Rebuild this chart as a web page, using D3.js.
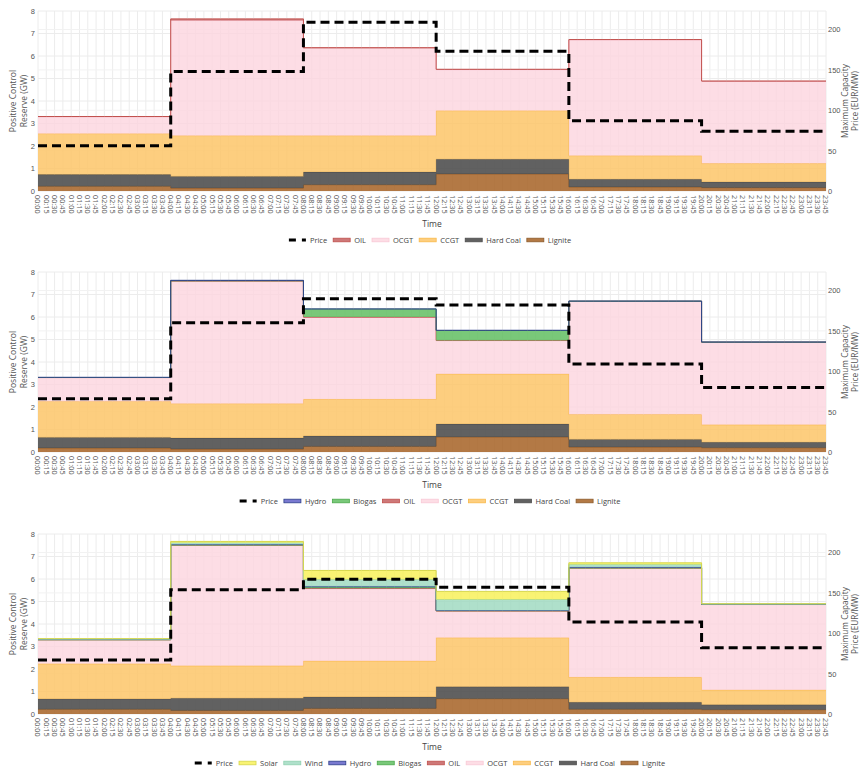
<!DOCTYPE html>
<html>
<head>
<meta charset="utf-8">
<script src="https://cdn.jsdelivr.net/npm/d3@7"></script>
<style>
  body { margin: 0; background: #fff; }
  svg { display: block; font-family: "Open Sans", "DejaVu Sans", sans-serif; }
</style>
</head>
<body>
<svg id="chart" width="861" height="772"></svg>
<script>
// Four-hour product blocks (00-04, 04-08, 08-12, 12-16, 16-20, 20-24), GW per technology
const blockStarts = ["00:00", "04:00", "08:00", "12:00", "16:00", "20:00"];

// Scenario 1: conventional only
const s1Lignite  = [0.21, 0.13, 0.28, 0.76, 0.18, 0.15];
const s1HardCoal = [0.52, 0.52, 0.56, 0.65, 0.34, 0.25];
const s1CCGT     = [1.82, 1.81, 1.62, 2.16, 1.05, 0.82];
const s1OCGT     = [0.74, 5.12, 3.89, 1.82, 5.14, 3.65];
const s1OIL      = [0.02, 0.07, 0.02, 0.02, 0.02, 0.02];
const s1Price    = [56, 148, 209, 173, 87, 74];

// Scenario 2: with biogas and hydro
const s2Lignite  = [0.18, 0.13, 0.25, 0.67, 0.22, 0.19];
const s2HardCoal = [0.47, 0.49, 0.46, 0.57, 0.34, 0.24];
const s2CCGT     = [1.60, 1.53, 1.63, 2.23, 1.11, 0.78];
const s2OCGT     = [1.05, 5.43, 3.64, 1.47, 5.02, 3.66];
const s2OIL      = [0.01, 0.03, 0.02, 0.02, 0.01, 0.01];
const s2Biogas   = [0.00, 0.00, 0.35, 0.44, 0.00, 0.00];
const s2Hydro    = [0.01, 0.02, 0.01, 0.01, 0.01, 0.01];
const s2Price    = [66, 160, 190, 182, 109, 80];

// Scenario 3: with wind and solar
const s3Lignite  = [0.21, 0.16, 0.25, 0.68, 0.21, 0.19];
const s3HardCoal = [0.46, 0.54, 0.51, 0.53, 0.31, 0.22];
const s3CCGT     = [1.56, 1.44, 1.60, 2.18, 1.11, 0.66];
const s3OCGT     = [1.06, 5.36, 3.20, 1.18, 4.85, 3.79];
const s3OIL      = [0.01, 0.01, 0.03, 0.01, 0.01, 0.01];
const s3Biogas   = [0.00, 0.00, 0.04, 0.01, 0.00, 0.00];
const s3Hydro    = [0.01, 0.02, 0.04, 0.01, 0.03, 0.01];
const s3Wind     = [0.02, 0.08, 0.31, 0.49, 0.13, 0.01];
const s3Solar    = [0.02, 0.06, 0.40, 0.36, 0.07, 0.01];
const s3Price    = [67, 154, 167, 157, 114, 82];

const gwTicks = [0, 1, 2, 3, 4, 5, 6, 7, 8];
const priceTicks = [0, 50, 100, 150, 200];
const gwMax = 8;
const priceMax = 223;

// Technology styling: fill, outline
const tech = {
  "Lignite":   { fill: "rgba(166,97,36,0.85)",  line: "#8c5a2b" },
  "Hard Coal": { fill: "rgba(80,80,80,0.9)",    line: "#4d4d4d" },
  "CCGT":      { fill: "rgba(253,198,105,0.85)",line: "#f9b949" },
  "OCGT":      { fill: "rgba(253,212,222,0.8)", line: "#f9c9d5" },
  "OIL":       { fill: "rgba(198,96,96,0.85)",  line: "#c0504d" },
  "Biogas":    { fill: "rgba(98,190,98,0.85)",  line: "#4aa84a" },
  "Hydro":     { fill: "rgba(98,98,200,0.85)",  line: "#2d3f8a" },
  "Wind":      { fill: "rgba(155,216,190,0.8)", line: "#8fd0b0" },
  "Solar":     { fill: "rgba(247,240,80,0.8)",  line: "#d6d64a" }
};

const panels = [
  { top: 11,  series: { "Lignite": s1Lignite, "Hard Coal": s1HardCoal, "CCGT": s1CCGT, "OCGT": s1OCGT, "OIL": s1OIL }, price: s1Price },
  { top: 272, series: { "Lignite": s2Lignite, "Hard Coal": s2HardCoal, "CCGT": s2CCGT, "OCGT": s2OCGT, "OIL": s2OIL, "Biogas": s2Biogas, "Hydro": s2Hydro }, price: s2Price },
  { top: 534, series: { "Lignite": s3Lignite, "Hard Coal": s3HardCoal, "CCGT": s3CCGT, "OCGT": s3OCGT, "OIL": s3OIL, "Biogas": s3Biogas, "Hydro": s3Hydro, "Wind": s3Wind, "Solar": s3Solar }, price: s3Price }
];

// Quarter-hour time axis labels
const timeLabels = [];
for (let h = 0; h < 24; h++) for (let m = 0; m < 60; m += 15)
  timeLabels.push(String(h).padStart(2, "0") + ":" + String(m).padStart(2, "0"));
const slotsPerBlock = timeLabels.length / blockStarts.length;
const expand = arr => arr.flatMap(v => new Array(slotsPerBlock).fill(v));

const svg = d3.select("#chart");
const left = 38, right = 826, plotH = 180;
const x = d3.scaleLinear().domain([0, timeLabels.length - 1]).range([left, right]);
const gridColor = "#ececec";
const tickColor = "#555";

panels.forEach(p => {
  const g = svg.append("g").attr("transform", `translate(0,${p.top})`);
  const y = d3.scaleLinear().domain([0, gwMax]).range([plotH, 0]);
  const yP = d3.scaleLinear().domain([0, priceMax]).range([plotH, 0]);

  // grid
  const grid = g.append("g");
  grid.selectAll(".vg").data(d3.range(timeLabels.length)).join("line")
    .attr("x1", d => x(d)).attr("x2", d => x(d)).attr("y1", 0).attr("y2", plotH)
    .attr("stroke", gridColor).attr("stroke-width", 1);
  grid.selectAll(".hg").data(gwTicks).join("line")
    .attr("x1", left).attr("x2", right).attr("y1", d => y(d)).attr("y2", d => y(d))
    .attr("stroke", gridColor);
  grid.selectAll(".pg").data(priceTicks.slice(1)).join("line")
    .attr("x1", left).attr("x2", right).attr("y1", d => yP(d)).attr("y2", d => yP(d))
    .attr("stroke", "#f2f2f2");

  // stacked areas
  const keys = Object.keys(p.series);
  const rows = timeLabels.map((t, i) => {
    const r = { i };
    keys.forEach(k => r[k] = expand(p.series[k])[i]);
    return r;
  });
  const stacked = d3.stack().keys(keys)(rows);
  const area = d3.area().curve(d3.curveStepAfter)
    .x(d => x(d.data.i)).y0(d => y(d[0])).y1(d => y(d[1]));
  const topLine = d3.line().curve(d3.curveStepAfter)
    .x(d => x(d.data.i)).y(d => y(d[1]));
  stacked.forEach(layer => {
    g.append("path").attr("d", area(layer)).attr("fill", tech[layer.key].fill);
    g.append("path").attr("d", topLine(layer)).attr("fill", "none")
      .attr("stroke", tech[layer.key].line).attr("stroke-width", 1);
  });

  // price step line
  const priceLine = d3.line().curve(d3.curveStepAfter)
    .x((d, i) => x(i)).y(d => yP(d));
  g.append("path").attr("d", priceLine(expand(p.price)))
    .attr("fill", "none").attr("stroke", "#000").attr("stroke-width", 3)
    .attr("stroke-dasharray", "9,5");

  // left axis
  const la = g.append("g").attr("transform", `translate(${left},0)`)
    .call(d3.axisLeft(y).tickValues(gwTicks).tickSize(0).tickPadding(3));
  la.select(".domain").remove();
  la.selectAll("text").attr("fill", tickColor).style("font-size", "7.5px");

  // right axis
  const ra = g.append("g").attr("transform", `translate(${right},0)`)
    .call(d3.axisRight(yP).tickValues(priceTicks).tickSize(0).tickPadding(2));
  ra.select(".domain").remove();
  ra.selectAll("text").attr("fill", tickColor).style("font-size", "7.5px");

  // x axis labels (rotated)
  g.append("g").selectAll("text").data(timeLabels).join("text")
    .attr("transform", (d, i) => `translate(${x(i) - 2.6},${plotH + 4}) rotate(90)`)
    .attr("fill", tickColor).style("font-size", "7.3px")
    .text(d => d);

  // axis titles
  g.append("text").attr("x", (left + right) / 2).attr("y", plotH + 36)
    .attr("text-anchor", "middle").attr("fill", "#444").style("font-size", "8.5px").text("Time");
  const lt = g.append("text").attr("transform", `translate(16,${plotH / 2}) rotate(-90)`)
    .attr("text-anchor", "middle").attr("fill", "#555").style("font-size", "8.5px");
  lt.append("tspan").attr("x", 0).attr("dy", 0).text("Positive Control");
  lt.append("tspan").attr("x", 0).attr("dy", 10.5).text("Reserve (GW)");
  const rt = g.append("text").attr("transform", `translate(848,${plotH / 2}) rotate(-90)`)
    .attr("text-anchor", "middle").attr("fill", "#555").style("font-size", "8.3px");
  rt.append("tspan").attr("x", 0).attr("dy", 0).text("Maximum Capacity");
  rt.append("tspan").attr("x", 0).attr("dy", 9.8).text("Price (EUR/MW)");

  // legend
  const items = ["Price"].concat(keys.slice().reverse());
  const lg = g.append("g").attr("transform", `translate(0,${plotH + 49})`);
  let cx = 0;
  items.forEach(name => {
    const it = lg.append("g").attr("transform", `translate(${cx},0)`);
    if (name === "Price") {
      it.append("line").attr("x1", 0).attr("x2", 17).attr("y1", 0).attr("y2", 0)
        .attr("stroke", "#000").attr("stroke-width", 3).attr("stroke-dasharray", "7,6");
    } else {
      it.append("rect").attr("x", 0).attr("y", -1.8).attr("width", 17).attr("height", 3.6)
        .attr("fill", tech[name].fill).attr("stroke", tech[name].line).attr("stroke-width", 0.8);
    }
    const tx = it.append("text").attr("x", 21).attr("y", 2.6).attr("fill", "#444")
      .style("font-size", "7.5px").text(name);
    cx += 21 + tx.node().getComputedTextLength() + 6;
  });
  lg.attr("transform", `translate(${430 - (cx - 6) / 2},${plotH + 49})`);
});
</script>
</body>
</html>
